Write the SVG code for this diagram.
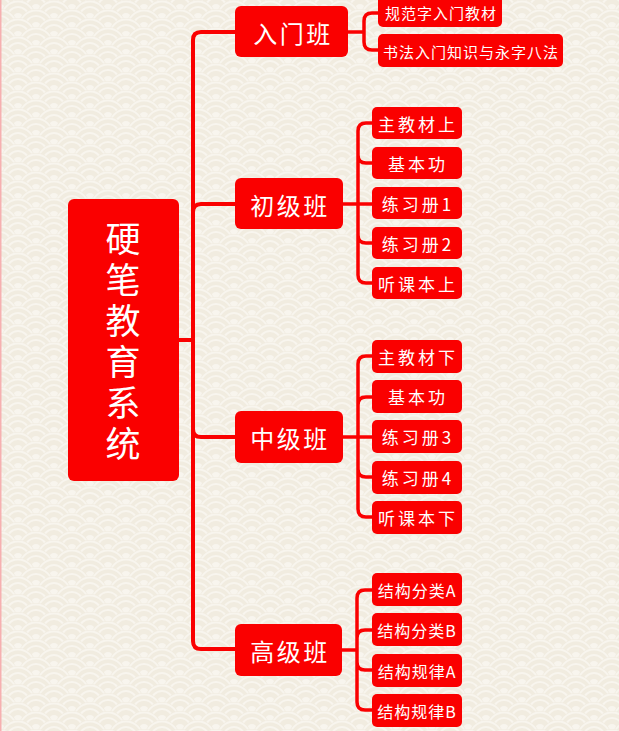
<svg xmlns="http://www.w3.org/2000/svg" xmlns:xlink="http://www.w3.org/1999/xlink" width="619" height="731" viewBox="0 0 619 731">
<style>
.box{fill:#fa0000}
.t{fill:#ffffff;font-family:"Noto Sans CJK SC","Noto Sans",sans-serif;text-anchor:middle;dominant-baseline:central}
.root{font-size:35px;writing-mode:vertical-rl;text-anchor:middle;letter-spacing:6px}
.l1{font-size:24px;letter-spacing:2.5px}
.l2{font-size:17px;letter-spacing:3px}
.l2b{font-size:16px;letter-spacing:1px}
.l2s{font-size:15px;letter-spacing:1px}
.c1{fill:none;stroke:#fa0000;stroke-width:4;stroke-linecap:round;stroke-linejoin:round}
.c2{fill:none;stroke:#fa0000;stroke-width:3.5;stroke-linecap:round;stroke-linejoin:round}
</style>
<defs>
<g id="sc">
<circle r="18" fill="#f1ece0"/>
<circle r="16.5" fill="none" stroke="#f8f5ee" stroke-width="2"/>
<circle r="11" fill="none" stroke="#f8f5ee" stroke-width="2"/>
<circle r="5" fill="#f8f5ee"/>
</g>
<pattern id="wave" width="36" height="18" patternUnits="userSpaceOnUse">
<rect width="36" height="18" fill="#f1ece0"/>
<use xlink:href="#sc" x="18" y="-18"/>
<use xlink:href="#sc" x="0" y="-9"/>
<use xlink:href="#sc" x="36" y="-9"/>
<use xlink:href="#sc" x="18" y="0"/>
<use xlink:href="#sc" x="0" y="9"/>
<use xlink:href="#sc" x="36" y="9"/>
<use xlink:href="#sc" x="18" y="18"/>
<use xlink:href="#sc" x="0" y="27"/>
<use xlink:href="#sc" x="36" y="27"/>
<use xlink:href="#sc" x="18" y="36"/>
</pattern>
</defs>
<rect width="619" height="731" fill="url(#wave)"/>
<rect x="0" y="0" width="1.5" height="731" fill="#f6b0b0"/>

<g id="connectors">
<path class="c1" d="M235 32 H201 Q193 32 193 40 V641 Q193 649 201 649 H235 M179 340 H193"/>
<path class="c1" d="M193 212 Q193 204 201 204 H235"/>
<path class="c1" d="M193 429 Q193 437 201 437 H235"/>
<path class="c2" d="M348 32 H364 V21 Q364 13 372 13 H378 M364 32 V42 Q364 50 372 50 H378"/>
<path class="c2" d="M343 204 H358 V131 Q358 123 366 123 H372 M358 204 V155 Q358 163 366 163 H372 M358 204 H372 M358 204 V235 Q358 243 366 243 H372 M358 204 V275 Q358 283 366 283 H372"/>
<path class="c2" d="M343 437 H358 V364 Q358 356 366 356 H372 M358 437 V405 Q358 397 366 397 H372 M358 437 H372 M358 437 V469 Q358 477 366 477 H372 M358 437 V509 Q358 517 366 517 H372"/>
<path class="c2" d="M342 650 H357 V598 Q357 590 365 590 H372 M357 650 V638 Q357 630 365 630 H372 M357 650 V662 Q357 670 365 670 H372 M357 650 V702 Q357 710 365 710 H372"/>
</g>

<g id="root">
<rect class="box" x="68" y="199" width="111" height="282" rx="6"/>
<text class="t root" x="123" y="344">硬笔教育系统</text>
</g>

<g id="n-rumen"><rect class="box" x="235" y="6" width="113" height="51" rx="6"/><text class="t l1" x="293" y="32">入门班</text></g>
<g id="n-chuji"><rect class="box" x="235" y="178" width="108" height="51" rx="6"/><text class="t l1" x="290" y="204">初级班</text></g>
<g id="n-zhongji"><rect class="box" x="235" y="411" width="108" height="52" rx="6"/><text class="t l1" x="290" y="437">中级班</text></g>
<g id="n-gaoji"><rect class="box" x="235" y="624" width="107" height="52" rx="6"/><text class="t l1" x="290" y="650">高级班</text></g>

<g id="n-r1"><rect class="box" x="378" y="-6" width="124" height="33" rx="5"/><text class="t l2s" x="441" y="12">规范字入门教材</text></g>
<g id="n-r2"><rect class="box" x="378" y="34" width="185" height="33" rx="5"/><text class="t l2s" x="471" y="51">书法入门知识与永字八法</text></g>

<g id="n-c1"><rect class="box" x="372" y="107" width="90" height="32" rx="5"/><text class="t l2" x="418" y="123">主教材上</text></g>
<g id="n-c2"><rect class="box" x="372" y="147" width="90" height="32" rx="5"/><text class="t l2" x="418" y="163">基本功</text></g>
<g id="n-c3"><rect class="box" x="372" y="187" width="90" height="32" rx="5"/><text class="t l2" x="418" y="203">练习册1</text></g>
<g id="n-c4"><rect class="box" x="372" y="227" width="90" height="32" rx="5"/><text class="t l2" x="418" y="243">练习册2</text></g>
<g id="n-c5"><rect class="box" x="372" y="267" width="90" height="32" rx="5"/><text class="t l2" x="418" y="283">听课本上</text></g>

<g id="n-z1"><rect class="box" x="372" y="340" width="90" height="33" rx="5"/><text class="t l2" x="418" y="356.5">主教材下</text></g>
<g id="n-z2"><rect class="box" x="372" y="380" width="90" height="33" rx="5"/><text class="t l2" x="418" y="396.5">基本功</text></g>
<g id="n-z3"><rect class="box" x="372" y="420" width="90" height="33" rx="5"/><text class="t l2" x="418" y="436.5">练习册3</text></g>
<g id="n-z4"><rect class="box" x="372" y="461" width="90" height="33" rx="5"/><text class="t l2" x="418" y="477.5">练习册4</text></g>
<g id="n-z5"><rect class="box" x="372" y="501" width="90" height="33" rx="5"/><text class="t l2" x="418" y="517.5">听课本下</text></g>

<g id="n-g1"><rect class="box" x="372" y="573" width="90" height="33" rx="5"/><text class="t l2b" x="417" y="589.5">结构分类A</text></g>
<g id="n-g2"><rect class="box" x="372" y="613" width="90" height="33" rx="5"/><text class="t l2b" x="417" y="629.5">结构分类B</text></g>
<g id="n-g3"><rect class="box" x="372" y="654" width="90" height="33" rx="5"/><text class="t l2b" x="417" y="670.5">结构规律A</text></g>
<g id="n-g4"><rect class="box" x="372" y="694" width="90" height="33" rx="5"/><text class="t l2b" x="417" y="710.5">结构规律B</text></g>
</svg>
